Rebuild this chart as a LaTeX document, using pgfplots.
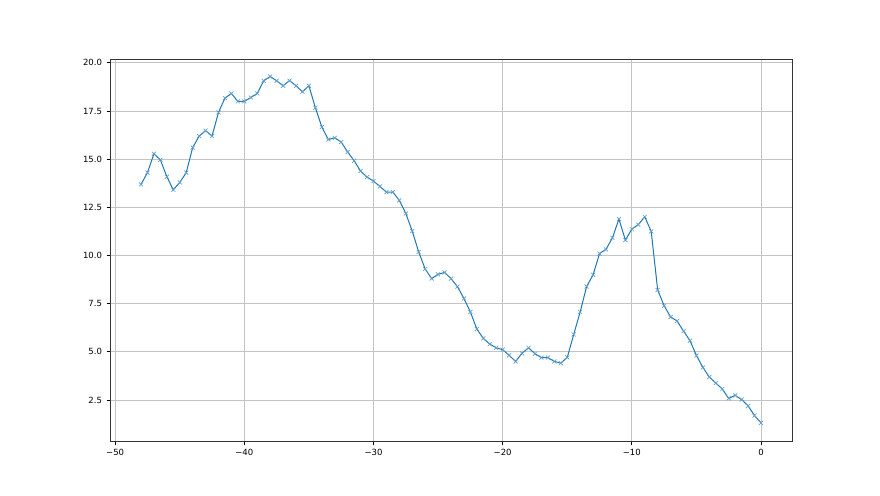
\documentclass[border=0pt]{standalone}
\usepackage{pgfplots}
\pgfplotsset{compat=1.18}
\usepackage{fontspec}
\setmainfont{DejaVu Sans}
\definecolor{mplblue}{HTML}{1F77B4}
\definecolor{gridgray}{HTML}{C4C4C4}
\begin{document}
\begin{tikzpicture}[x=1pt,y=1pt]
\useasboundingbox (0,0) rectangle (880,495);
\begin{axis}[
  at={(110pt,54pt)}, anchor=south west,
  scale only axis, width=682pt, height=382pt,
  xmin=-50.4, xmax=2.4, ymin=0.37, ymax=20.2,
  xtick={-50,-40,-30,-20,-10,0},
  xticklabels={−50,−40,−30,−20,−10,0},
  ytick={2.5,5,7.5,10,12.5,15,17.5,20},
  yticklabels={2.5,5.0,7.5,10.0,12.5,15.0,17.5,20.0},
  tick pos=left, tick align=outside,
  major tick length=3.5pt,
  every tick/.style={black, line width=0.8pt},
  axis line style={line width=0.8pt, black!80},
  grid=major,
  major grid style={gridgray, line width=0.7pt},
  tick label style={font=\fontsize{8.5}{10}\selectfont},
  xticklabel style={yshift=-1pt},
  yticklabel style={xshift=-1pt},
]
\addplot[mplblue, line width=1.0pt, mark=x, mark size=2.8pt, mark options={line width=0.7pt, mplblue!70}] coordinates {
(-48,13.69) (-47.5,14.3) (-47,15.28) (-46.5,14.97) (-46,14.09) (-45.5,13.41)
(-45,13.79) (-44.5,14.3) (-44,15.6) (-43.5,16.2) (-43,16.48) (-42.5,16.2)
(-42,17.43) (-41.5,18.17) (-41,18.41) (-40.5,18.0) (-40,18.0) (-39.5,18.2)
(-39,18.41) (-38.5,19.07) (-38,19.29) (-37.5,19.07) (-37,18.81) (-36.5,19.08)
(-36,18.81) (-35.5,18.5) (-35,18.81) (-34.5,17.67) (-34,16.67) (-33.5,16.02)
(-33,16.11) (-32.5,15.89) (-32,15.37) (-31.5,14.92) (-31,14.38) (-30.5,14.07)
(-30,13.86) (-29.5,13.58) (-29,13.29) (-28.5,13.29) (-28,12.86) (-27.5,12.18)
(-27,11.27) (-26.5,10.18) (-26,9.3) (-25.5,8.8) (-25,9.02) (-24.5,9.12)
(-24,8.8) (-23.5,8.38) (-23,7.77) (-22.5,7.07) (-22,6.18) (-21.5,5.7)
(-21,5.4) (-20.5,5.21) (-20,5.11) (-19.5,4.82) (-19,4.5) (-18.5,4.92)
(-18,5.21) (-17.5,4.9) (-17,4.7) (-16.5,4.7) (-16,4.5) (-15.5,4.41)
(-15,4.71) (-14.5,5.9) (-14,7.07) (-13.5,8.39) (-13,9.0) (-12.5,10.1)
(-12,10.32) (-11.5,10.92) (-11,11.89) (-10.5,10.8) (-10,11.37) (-9.5,11.6)
(-9,12.01) (-8.5,11.25) (-8,8.21) (-7.5,7.39) (-7,6.81) (-6.5,6.6)
(-6,6.08) (-5.5,5.58) (-5,4.81) (-4.5,4.19) (-4,3.69) (-3.5,3.38)
(-3,3.07) (-2.5,2.58) (-2,2.74) (-1.5,2.52) (-1,2.19) (-0.5,1.69) (0,1.31)
};
\end{axis}
\end{tikzpicture}
\end{document}
